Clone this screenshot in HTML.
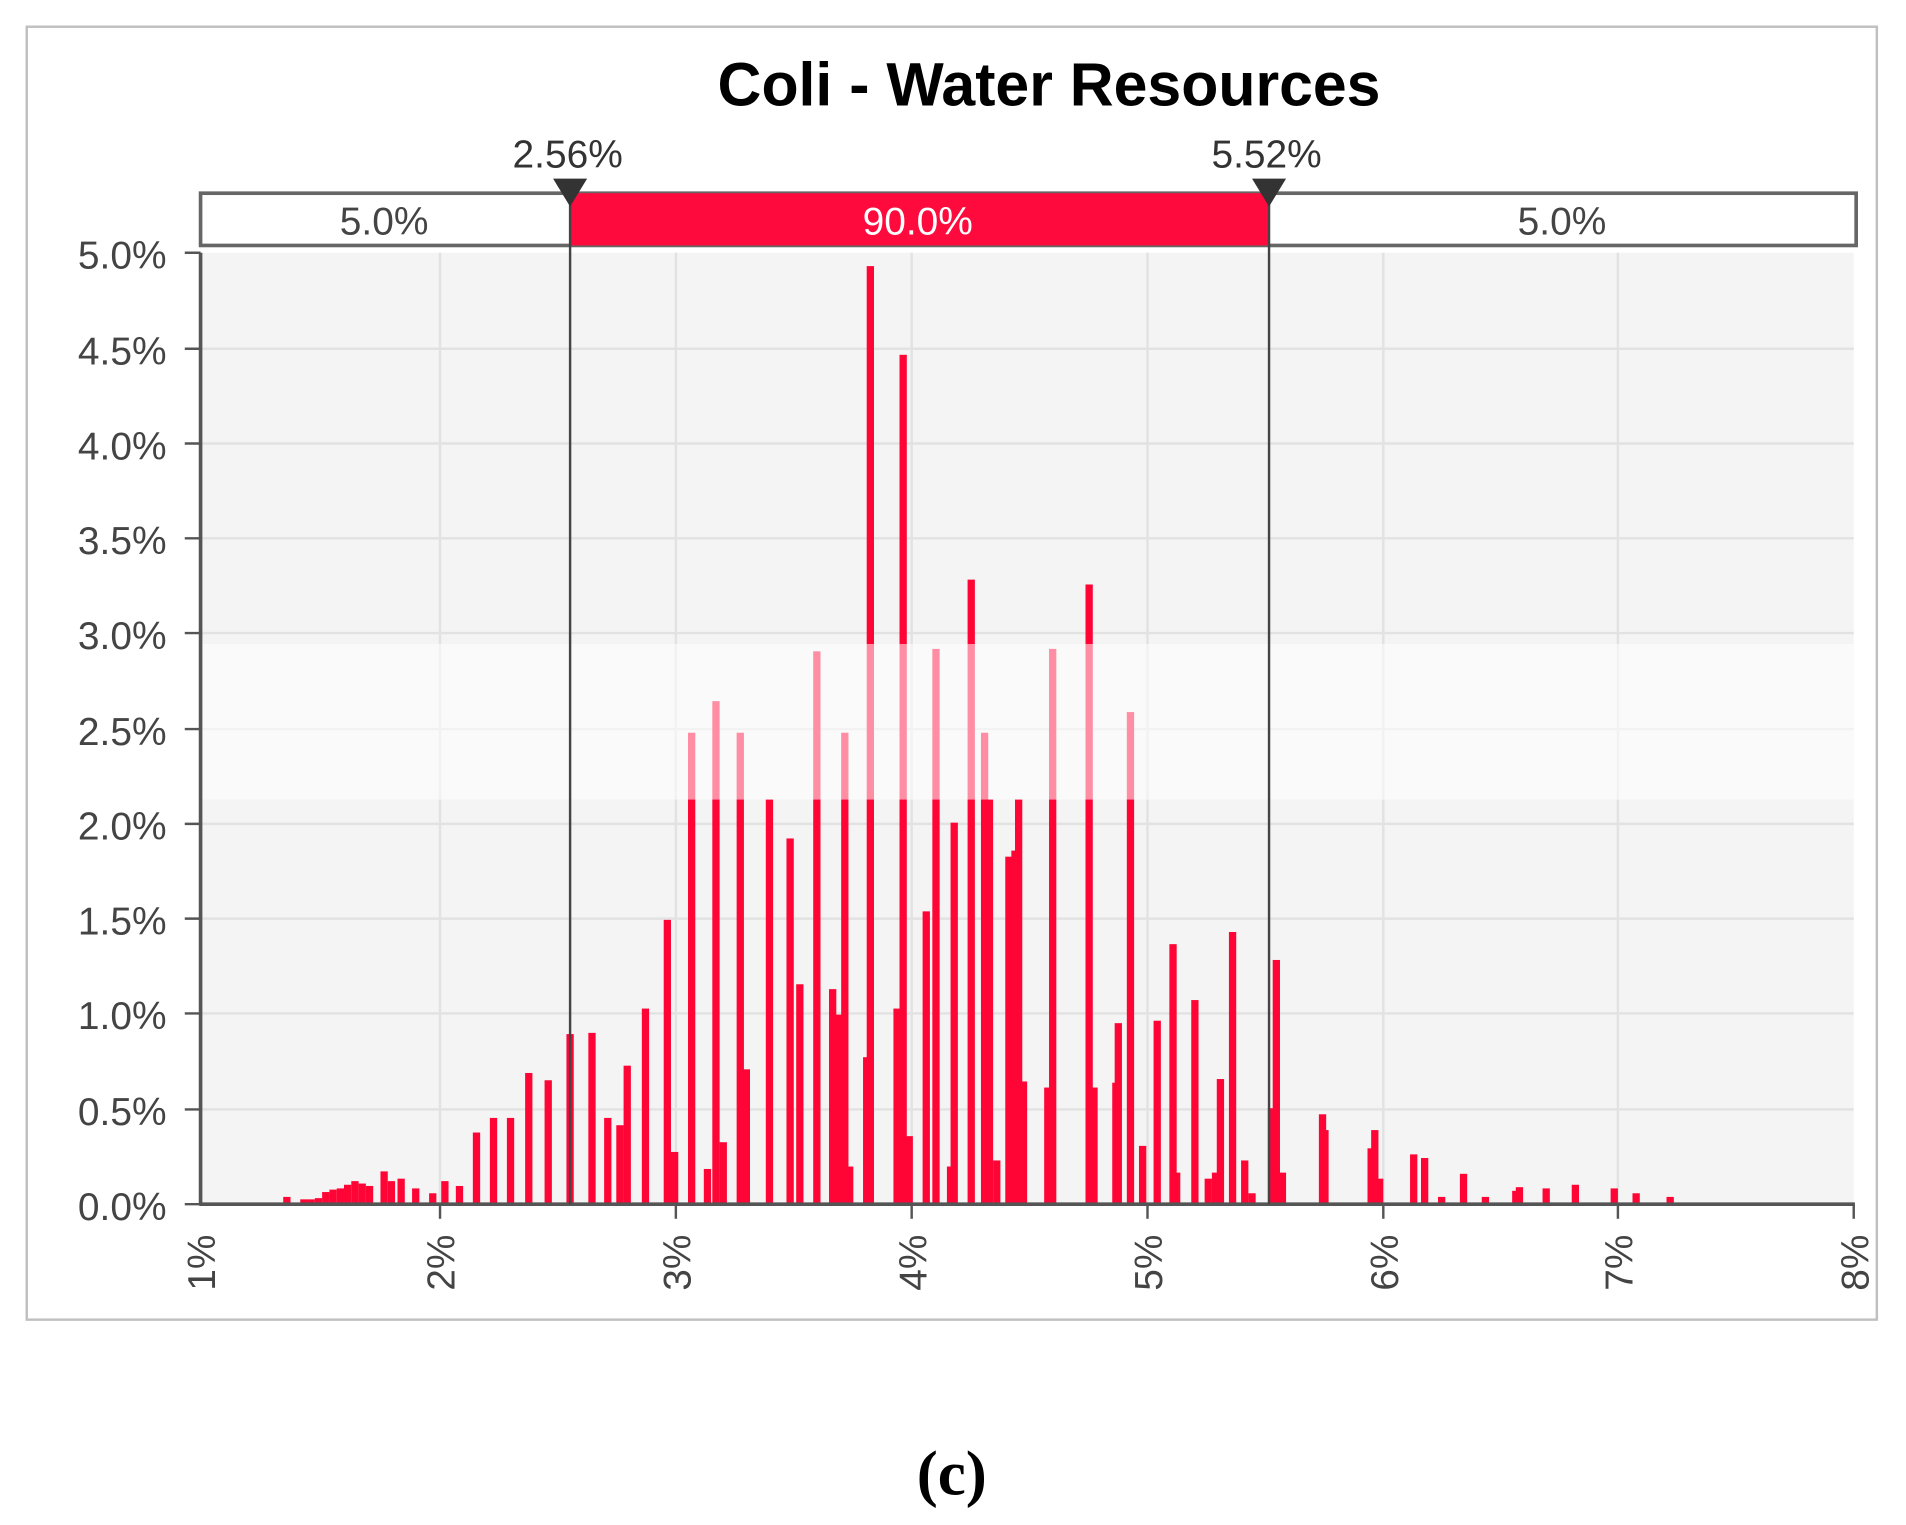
<!DOCTYPE html>
<html><head><meta charset="utf-8"><style>
html,body{margin:0;padding:0;background:#fff;}
svg{display:block;}
</style></head><body>
<svg width="1906" height="1525" viewBox="0 0 1568 1255" preserveAspectRatio="none" xmlns="http://www.w3.org/2000/svg" font-family="Liberation Sans, sans-serif">
<rect x="0" y="0" width="1568" height="1255" fill="#fff"/>
<rect x="22" y="22" width="1522" height="1064" fill="#fff" stroke="#c0c0c0" stroke-width="2"/>
<text x="863" y="87" text-anchor="middle" font-family="Liberation Sans, sans-serif" font-weight="bold" font-size="50" fill="#000">Coli - Water Resources</text>
<rect x="165" y="208" width="1360" height="783" fill="#f4f4f4"/>
<g stroke="#e2e2e2" stroke-width="2">
<line x1="165" y1="287" x2="1525" y2="287"/><line x1="165" y1="365" x2="1525" y2="365"/>
<line x1="165" y1="443" x2="1525" y2="443"/><line x1="165" y1="521" x2="1525" y2="521"/>
<line x1="165" y1="600" x2="1525" y2="600"/><line x1="165" y1="678" x2="1525" y2="678"/>
<line x1="165" y1="756" x2="1525" y2="756"/><line x1="165" y1="834" x2="1525" y2="834"/>
<line x1="165" y1="913" x2="1525" y2="913"/>
<line x1="362" y1="208" x2="362" y2="991"/><line x1="556" y1="208" x2="556" y2="991"/>
<line x1="750" y1="208" x2="750" y2="991"/><line x1="944" y1="208" x2="944" y2="991"/>
<line x1="1138" y1="208" x2="1138" y2="991"/><line x1="1331" y1="208" x2="1331" y2="991"/>
</g>
<g fill="#ff0536">
<rect x="233" y="985" width="6" height="6"/><rect x="247" y="987" width="6" height="4"/><rect x="253" y="987" width="6" height="4"/><rect x="259" y="986" width="6" height="5"/><rect x="265" y="981" width="6" height="10"/><rect x="271" y="979" width="6" height="12"/><rect x="277" y="978" width="6" height="13"/><rect x="283" y="975" width="6" height="16"/><rect x="289" y="972" width="6" height="19"/><rect x="295" y="974" width="6" height="17"/><rect x="301" y="976" width="6" height="15"/><rect x="313" y="964" width="6" height="27"/><rect x="319" y="972" width="6" height="19"/><rect x="327" y="970" width="6" height="21"/><rect x="339" y="978" width="6" height="13"/><rect x="353" y="982" width="6" height="9"/><rect x="363" y="972" width="6" height="19"/><rect x="375" y="976" width="6" height="15"/><rect x="389" y="932" width="6" height="59"/><rect x="403" y="920" width="6" height="71"/><rect x="417" y="920" width="6" height="71"/><rect x="432" y="883" width="6" height="108"/><rect x="448" y="889" width="6" height="102"/><rect x="466" y="851" width="6" height="140"/><rect x="484" y="850" width="6" height="141"/><rect x="497" y="920" width="6" height="71"/><rect x="507" y="926" width="6" height="65"/><rect x="513" y="877" width="6" height="114"/><rect x="528" y="830" width="6" height="161"/><rect x="546" y="757" width="6" height="234"/><rect x="552" y="948" width="6" height="43"/><rect x="566" y="603" width="6" height="388"/><rect x="579" y="962" width="6" height="29"/><rect x="586" y="577" width="6" height="414"/><rect x="592" y="940" width="6" height="51"/><rect x="606" y="603" width="6" height="388"/><rect x="611" y="880" width="6" height="111"/><rect x="630" y="658" width="6" height="333"/><rect x="647" y="690" width="6" height="301"/><rect x="655" y="810" width="6" height="181"/><rect x="669" y="536" width="6" height="455"/><rect x="682" y="814" width="6" height="177"/><rect x="687" y="835" width="6" height="156"/><rect x="692" y="603" width="6" height="388"/><rect x="696" y="960" width="6" height="31"/><rect x="710" y="870" width="6" height="121"/><rect x="713" y="219" width="6" height="772"/><rect x="735" y="830" width="6" height="161"/><rect x="740" y="292" width="6" height="699"/><rect x="745" y="935" width="6" height="56"/><rect x="759" y="750" width="6" height="241"/><rect x="767" y="534" width="6" height="457"/><rect x="779" y="960" width="6" height="31"/><rect x="782" y="677" width="6" height="314"/><rect x="796" y="477" width="6" height="514"/><rect x="807" y="603" width="6" height="388"/><rect x="811" y="658" width="6" height="333"/><rect x="817" y="955" width="6" height="36"/><rect x="827" y="705" width="6" height="286"/><rect x="832" y="700" width="6" height="291"/><rect x="835" y="658" width="6" height="333"/><rect x="839" y="890" width="6" height="101"/><rect x="863" y="534" width="6" height="457"/><rect x="859" y="895" width="6" height="96"/><rect x="893" y="481" width="6" height="510"/><rect x="897" y="895" width="6" height="96"/><rect x="915" y="891" width="6" height="100"/><rect x="917" y="842" width="6" height="149"/><rect x="927" y="586" width="6" height="405"/><rect x="937" y="943" width="6" height="48"/><rect x="949" y="840" width="6" height="151"/><rect x="962" y="777" width="6" height="214"/><rect x="965" y="965" width="6" height="26"/><rect x="980" y="823" width="6" height="168"/><rect x="991" y="970" width="6" height="21"/><rect x="997" y="965" width="6" height="26"/><rect x="1001" y="888" width="6" height="103"/><rect x="1011" y="767" width="6" height="224"/><rect x="1021" y="955" width="6" height="36"/><rect x="1027" y="982" width="6" height="9"/><rect x="1043" y="912" width="6" height="79"/><rect x="1047" y="790" width="6" height="201"/><rect x="1052" y="965" width="6" height="26"/><rect x="1085" y="917" width="6" height="74"/><rect x="1087" y="930" width="6" height="61"/><rect x="1125" y="945" width="6" height="46"/><rect x="1128" y="930" width="6" height="61"/><rect x="1132" y="970" width="6" height="21"/><rect x="1160" y="950" width="6" height="41"/><rect x="1169" y="953" width="6" height="38"/><rect x="1183" y="985" width="6" height="6"/><rect x="1201" y="966" width="6" height="25"/><rect x="1219" y="985" width="6" height="6"/><rect x="1244" y="980" width="6" height="11"/><rect x="1247" y="977" width="6" height="14"/><rect x="1269" y="978" width="6" height="13"/><rect x="1293" y="975" width="6" height="16"/><rect x="1325" y="978" width="6" height="13"/><rect x="1343" y="982" width="6" height="9"/><rect x="1371" y="985" width="6" height="6"/>
</g>
<rect x="165" y="530" width="1360" height="128" fill="#fff" opacity="0.55"/>
<line x1="165" y1="208" x2="165" y2="992" stroke="#555" stroke-width="3"/>
<line x1="164" y1="991" x2="1526" y2="991" stroke="#555" stroke-width="3"/>
<g stroke="#555" stroke-width="2">
<line x1="152" y1="208" x2="165" y2="208"/><line x1="152" y1="287" x2="165" y2="287"/><line x1="152" y1="365" x2="165" y2="365"/><line x1="152" y1="443" x2="165" y2="443"/><line x1="152" y1="521" x2="165" y2="521"/><line x1="152" y1="600" x2="165" y2="600"/><line x1="152" y1="678" x2="165" y2="678"/><line x1="152" y1="756" x2="165" y2="756"/><line x1="152" y1="834" x2="165" y2="834"/><line x1="152" y1="913" x2="165" y2="913"/><line x1="152" y1="991" x2="165" y2="991"/>
<line x1="362" y1="991" x2="362" y2="1003"/><line x1="556" y1="991" x2="556" y2="1003"/><line x1="750" y1="991" x2="750" y2="1003"/><line x1="944" y1="991" x2="944" y2="1003"/><line x1="1138" y1="991" x2="1138" y2="1003"/><line x1="1331" y1="991" x2="1331" y2="1003"/><line x1="1525" y1="991" x2="1525" y2="1003"/>
</g>
<g font-size="32" fill="#444" text-anchor="end">
<text x="137" y="221">5.0%</text><text x="137" y="300">4.5%</text><text x="137" y="378">4.0%</text><text x="137" y="456">3.5%</text><text x="137" y="534">3.0%</text><text x="137" y="613">2.5%</text><text x="137" y="691">2.0%</text><text x="137" y="769">1.5%</text><text x="137" y="847">1.0%</text><text x="137" y="926">0.5%</text><text x="137" y="1004">0.0%</text>
</g>
<g font-size="32" fill="#444" text-anchor="end">
<text transform="translate(177,1016) rotate(-90)">1%</text>
<text transform="translate(374,1016) rotate(-90)">2%</text>
<text transform="translate(568,1016) rotate(-90)">3%</text>
<text transform="translate(762,1016) rotate(-90)">4%</text>
<text transform="translate(956,1016) rotate(-90)">5%</text>
<text transform="translate(1150,1016) rotate(-90)">6%</text>
<text transform="translate(1343,1016) rotate(-90)">7%</text>
<text transform="translate(1537,1016) rotate(-90)">8%</text>
</g>
<rect x="165" y="159" width="1362" height="43" fill="#fff" stroke="#666" stroke-width="3"/>
<rect x="469" y="159" width="575" height="43" fill="#ff0a3c"/>
<text x="316" y="193" text-anchor="middle" font-size="32" fill="#444">5.0%</text>
<text x="755" y="193" text-anchor="middle" font-size="32" fill="#fff">90.0%</text>
<text x="1285" y="193" text-anchor="middle" font-size="32" fill="#444">5.0%</text>
<line x1="469" y1="150" x2="469" y2="991" stroke="#444" stroke-width="2"/>
<line x1="1044" y1="150" x2="1044" y2="991" stroke="#444" stroke-width="2"/>
<polygon points="455,147 483,147 469,170" fill="#333"/>
<polygon points="1030,147 1058,147 1044,170" fill="#333"/>
<text x="467" y="138" text-anchor="middle" font-size="32" fill="#333">2.56%</text>
<text x="1042" y="138" text-anchor="middle" font-size="32" fill="#333">5.52%</text>
<text x="783" y="1230" text-anchor="middle" font-family="Liberation Serif, serif" font-weight="bold" font-size="52" fill="#000">(c)</text>
</svg>
</body></html>
